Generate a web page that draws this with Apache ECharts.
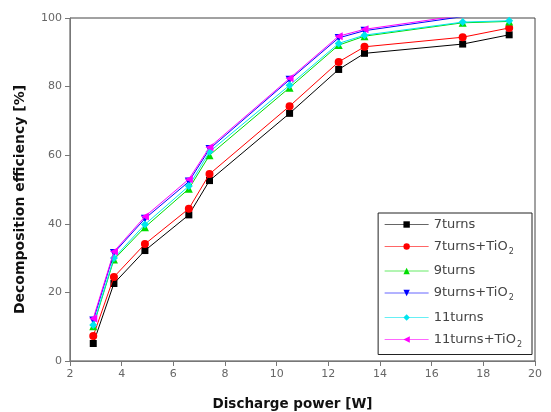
<!DOCTYPE html>
<html>
<head>
<meta charset="utf-8">
<script src="https://cdn.jsdelivr.net/npm/echarts@6/dist/echarts.min.js"></script>
<style>
  html, body { margin: 0; padding: 0; background: #fff; }
  #chart { width: 551px; height: 412px; }
</style>
</head>
<body>
<div id="chart"></div>
<script>
// discharge power [W]
var power = [2.9, 3.7, 4.9, 6.6, 7.4, 10.5, 12.4, 13.4, 17.2, 19.0];

// decomposition efficiency [%]
var turns7      = [5.1, 22.6, 32.2, 42.6, 52.6, 72.2, 85.0, 89.7, 92.4, 95.1];
var turns7TiO2  = [7.3, 24.5, 34.1, 44.4, 54.5, 74.3, 87.2, 91.6, 94.4, 97.1];
var turns9      = [10.1, 29.6, 39.0, 50.2, 60.0, 79.7, 92.1, 94.7, 98.6, 99.0];
var turns9TiO2  = [11.8, 31.5, 41.5, 52.3, 61.8, 82.0, 94.2, 96.3, 100.4, 100.6];
var turns11     = [10.5, 30.0, 39.8, 51.0, 61.0, 80.4, 92.6, 95.0, 98.8, 99.2];
var turns11TiO2 = [12.4, 31.9, 42.1, 53.0, 62.3, 82.4, 94.7, 96.7, 100.8, 101.0];

var names   = ['7turns', '7turns+TiO2', '9turns', '9turns+TiO2', '11turns', '11turns+TiO2'];
var colors  = ['#000000', '#ff0000', '#00dd00', '#0000ff', '#00e5ee', '#ff00ff'];
var symbols = ['rect', 'circle', 'triangle', 'path://M0,0 L10,0 L5,9 Z', 'diamond', 'path://M0,5 L9,0 L9,10 Z'];
var values  = [turns7, turns7TiO2, turns9, turns9TiO2, turns11, turns11TiO2];

var series = values.map(function (vals, i) {
	return {
		name: names[i],
		type: 'line',
		data: vals.map(function (v, j) { return [power[j], v]; }),
		symbol: symbols[i],
		symbolSize: i === 0 ? 7 : 8,
		clip: true,
		lineStyle: { color: colors[i], width: 1 },
		itemStyle: { color: colors[i] },
		z: 2 + i
	};
});

var myChart = echarts.init(document.getElementById('chart'));

var titleFont = { fontFamily: 'DejaVu Sans, Verdana, sans-serif', fontWeight: 'bold', color: '#111' };

var option = {
	animation: false,
	backgroundColor: '#fff',
	grid: {
		left: 70, right: 16, top: 18, bottom: 51,
		outerBoundsMode: 'none',
		show: true, borderColor: '#444', borderWidth: 1
	},
	legend: {
		orient: 'vertical',
		right: 19,
		top: 213,
		backgroundColor: '#fff',
		borderColor: '#222',
		borderWidth: 1,
		borderRadius: 0,
		padding: [5, 10, 6, 6],
		itemGap: 9,
		itemWidth: 44,
		itemHeight: 8,
		lineStyle: { width: 1, opacity: 0.6 },
		data: names,
		textStyle: {
			color: '#444',
			fontFamily: 'DejaVu Sans, sans-serif',
			fontSize: 13,
			rich: {
				sub: { fontSize: 8, color: '#444', fontFamily: 'DejaVu Sans, sans-serif', verticalAlign: 'bottom', padding: [10, 0, 0, 1] }
			}
		},
		formatter: function (name) {
			return name.indexOf('TiO2') >= 0 ? name.replace('TiO2', 'TiO') + '{sub|2}' : name;
		}
	},
	xAxis: {
		type: 'value',
		min: 2,
		max: 20,
		interval: 2,
		name: 'Discharge power [W]',
		nameLocation: 'middle',
		nameGap: 36,
		nameTextStyle: Object.assign({ fontSize: 13.5, padding: [0, 20, 0, 0] }, titleFont),
		axisLine: { lineStyle: { color: '#777' } },
		axisTick: { show: true, inside: false, length: 5, lineStyle: { color: '#777' } },
		axisLabel: { color: '#666', fontSize: 11, fontFamily: 'DejaVu Sans, sans-serif', margin: 8 },
		splitLine: { show: false }
	},
	yAxis: {
		type: 'value',
		min: 0,
		max: 100,
		interval: 20,
		name: 'Decomposition efficiency [%]',
		nameLocation: 'middle',
		nameGap: 43,
		nameTextStyle: Object.assign({ fontSize: 14, padding: [0, 20, 0, 0] }, titleFont),
		axisLine: { show: true, lineStyle: { color: '#777' } },
		axisTick: { show: true, inside: false, length: 5, lineStyle: { color: '#777' } },
		axisLabel: { color: '#666', fontSize: 11, fontFamily: 'DejaVu Sans, sans-serif', margin: 8 },
		splitLine: { show: false }
	},
	series: series
};

myChart.setOption(option);
</script>
</body>
</html>
